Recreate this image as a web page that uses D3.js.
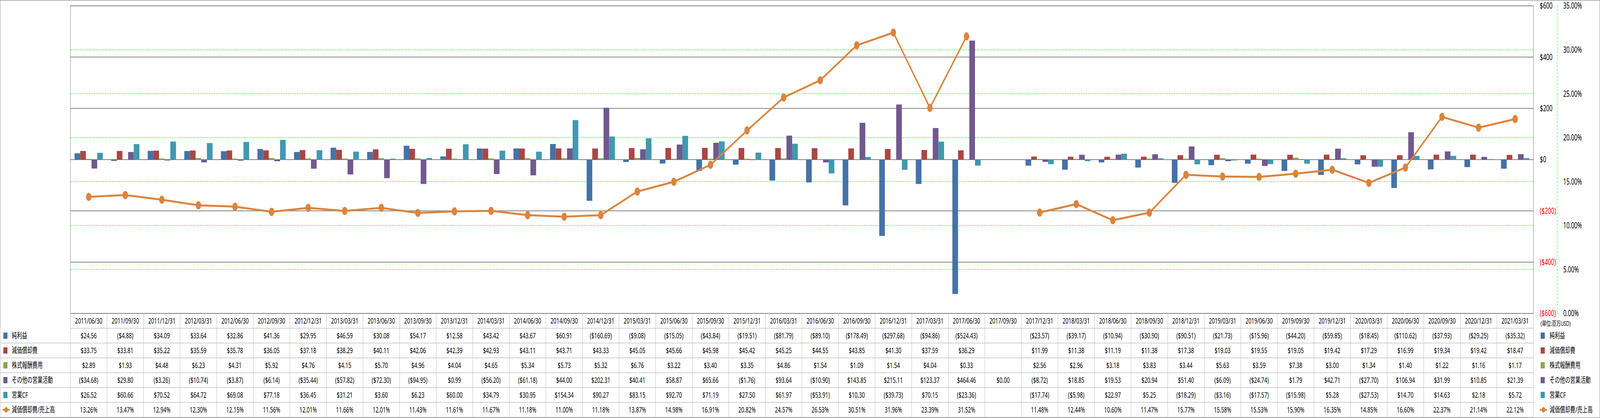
<!DOCTYPE html>
<html>
<head>
<meta charset="utf-8">
<script src="https://cdn.jsdelivr.net/npm/d3@7"></script>
<style>
html, body { margin: 0; padding: 0; background: #fff; overflow: hidden; }
.chart-wrapper { width: 100vw; height: 100vh; }
svg { display: block; }
text { font-family: "Noto Sans", "Noto Sans CJK JP", sans-serif; }
</style>
</head>
<body>
<div class="chart-wrapper"></div>
<script>
const dates = ['2011/06/30','2011/09/30','2011/12/31','2012/03/31','2012/06/30','2012/09/30','2012/12/31','2013/03/31','2013/06/30','2013/09/30','2013/12/31','2014/03/31','2014/06/30','2014/09/30','2014/12/31','2015/03/31','2015/06/30','2015/09/30','2015/12/31','2016/03/31','2016/06/30','2016/09/30','2016/12/31','2017/03/31','2017/06/30','2017/09/30','2017/12/31','2018/03/31','2018/06/30','2018/09/30','2018/12/31','2019/03/31','2019/06/30','2019/09/30','2019/12/31','2020/03/31','2020/06/30','2020/09/30','2020/12/31','2021/03/31'];

const netIncome = [24.56,-4.88,34.09,33.64,32.86,41.36,29.95,46.59,30.08,54.17,12.58,43.42,43.67,60.91,-160.69,-9.08,-15.05,-43.84,-19.51,-81.79,-89.10,-178.49,-297.68,-94.86,-524.43,null,-23.57,-39.17,-10.94,-30.90,-90.51,-21.73,-15.96,-44.20,-59.85,-18.45,-110.62,-37.93,-29.25,-35.32];
const depreciation = [33.75,33.81,35.22,35.59,35.78,36.05,37.18,38.29,40.11,42.06,42.39,42.93,43.11,43.71,43.33,45.05,45.66,45.98,45.42,45.25,44.55,43.85,41.30,37.59,36.29,null,11.99,11.38,11.19,11.38,17.38,19.03,19.55,19.05,19.42,17.29,16.99,19.34,19.42,18.47];
const stockComp = [2.89,1.93,4.48,6.23,4.31,5.92,4.76,4.15,5.70,4.96,4.04,4.65,5.34,5.73,5.32,6.76,3.22,3.40,3.35,4.86,1.54,1.09,1.54,4.04,0.33,null,2.56,2.96,3.18,3.83,3.44,5.63,3.59,7.38,3.00,1.34,1.40,1.22,1.16,1.17];
const otherOps = [-34.68,29.80,-3.26,-10.74,-3.87,-6.14,-35.44,-57.82,-72.30,-94.95,0.99,-56.20,-61.18,44.00,202.31,40.41,58.87,65.66,-1.76,93.64,-10.90,143.85,215.11,123.37,464.46,0.00,-8.72,18.85,19.53,20.94,51.40,-6.09,-24.74,1.79,42.71,-27.70,106.94,31.99,10.85,21.39];
const operatingCF = [26.52,60.66,70.52,64.72,69.08,77.18,36.45,31.21,3.60,6.23,60.00,34.79,30.95,154.34,90.27,83.15,92.70,71.19,27.50,61.97,-53.91,10.30,-39.73,70.15,-23.36,null,-17.74,-5.98,22.97,5.25,-18.29,-3.16,-17.57,-15.98,5.28,-27.53,14.70,14.63,2.18,5.72];
const deprRatio = [13.26,13.47,12.94,12.30,12.15,11.56,12.01,11.66,12.01,11.43,11.61,11.67,11.18,11.00,11.18,13.87,14.98,16.91,20.82,24.57,26.53,30.51,31.96,23.39,31.52,null,11.48,12.44,10.60,11.47,15.77,15.58,15.53,15.90,16.35,14.85,16.60,22.37,21.14,22.12];

const usdTicks = [-600,-400,-200,0,200,400,600];
const pctTicks = [0,5,10,15,20,25,30,35];

const barSeries = [
	{name:'純利益', values:netIncome, color:'#4572A7'},
	{name:'減価償却費', values:depreciation, color:'#AA4643'},
	{name:'株式報酬費用', values:stockComp, color:'#89A54E'},
	{name:'その他の営業活動', values:otherOps, color:'#71588F'},
	{name:'営業CF', values:operatingCF, color:'#4198AF'}
];
const lineSeries = {name:'減価償却費/売上高', values:deprRatio, color:'#DB843D'};

const width = 6226;
const height = 1071;
const plot = {left:274, right:5967, top:15, bottom:803};
const rowH = 38;
const tableTop = plot.bottom;
const fs = '20px';

let svg = d3.select('.chart-wrapper').append('svg')
.attr('viewBox', '0 0 ' + width + ' ' + height)
.attr('preserveAspectRatio', 'none')
.attr('width', '100%')
.attr('height', '100%')

svg.append('rect')
.attr('x', 0.5).attr('y', 0.5)
.attr('width', width - 1).attr('height', height - 1)
.attr('fill', '#fff')
.attr('stroke', '#888')
.attr('stroke-width', 1.5)

let x = d3.scaleBand()
.domain(dates)
.range([plot.left, plot.right])

let groupW = x.bandwidth() * 0.773;
let x1 = d3.scaleBand()
.domain(barSeries.map(d => d.name))
.range([(x.bandwidth() - groupW) / 2, (x.bandwidth() + groupW) / 2])

let yUsd = d3.scaleLinear().domain([-600, 600]).range([plot.bottom, plot.top])
let yPct = d3.scaleLinear().domain([0, 35]).range([plot.bottom, plot.top])

// grid lines
svg.append('g')
.selectAll('line')
.data(pctTicks)
.enter()
.append('line')
.attr('x1', plot.left).attr('x2', plot.right)
.attr('y1', d => yPct(d)).attr('y2', d => yPct(d))
.attr('stroke', '#00ff00')
.attr('stroke-width', 1.3)
.attr('stroke-dasharray', '5,4')

svg.append('g')
.selectAll('line')
.data(usdTicks)
.enter()
.append('line')
.attr('x1', plot.left).attr('x2', plot.right)
.attr('y1', d => yUsd(d)).attr('y2', d => yUsd(d))
.attr('stroke', '#808080')
.attr('stroke-width', 2)

// bars
let bars = svg.append('g')
barSeries.forEach(s => {
	bars.append('g')
	.selectAll('rect')
	.data(s.values.map((v, i) => ({v, date: dates[i]})).filter(d => d.v != null))
	.enter()
	.append('rect')
	.attr('x', d => x(d.date) + x1(s.name))
	.attr('width', x1.bandwidth())
	.attr('y', d => Math.min(yUsd(d.v), yUsd(0)))
	.attr('height', d => Math.abs(yUsd(d.v) - yUsd(0)))
	.attr('fill', s.color)
})

// plot border
svg.append('rect')
.attr('x', plot.left).attr('y', plot.top)
.attr('width', plot.right - plot.left).attr('height', plot.bottom - plot.top)
.attr('fill', 'none')
.attr('stroke', '#808080')
.attr('stroke-width', 1.5)

// ratio line
const cx = d => x(d.date) + x.bandwidth() / 2;
let lineData = deprRatio.map((v, i) => ({v, date: dates[i]}));
let line = d3.line()
.defined(d => d.v != null)
.x(cx)
.y(d => yPct(d.v))

svg.append('path')
.datum(lineData)
.attr('d', line)
.attr('fill', 'none')
.attr('stroke', lineSeries.color)
.attr('stroke-width', 5)

svg.append('g')
.selectAll('circle')
.data(lineData.filter(d => d.v != null))
.enter()
.append('circle')
.attr('cx', cx)
.attr('cy', d => yPct(d.v))
.attr('r', 10.5)
.attr('fill', lineSeries.color)

// right axes
const fmtUsd = d => d < 0 ? '($' + (-d) + ')' : '$' + d;
let usdAxis = svg.append('g')
.attr('transform', 'translate(5985,0)')
.call(d3.axisRight(yUsd).tickValues(usdTicks).tickSize(0).tickPadding(7).tickFormat(fmtUsd))
usdAxis.select('.domain').remove()
usdAxis.selectAll('text')
.style('font-size', '21.5px')
.style('font-family', '"Noto Sans", sans-serif')
.attr('fill', d => d < 0 ? '#ff0000' : '#000')

let pctAxis = svg.append('g')
.attr('transform', 'translate(6059,0)')
.call(d3.axisRight(yPct).tickValues(pctTicks).tickSizeOuter(0).tickSize(8).tickPadding(16).tickFormat(d => d.toFixed(2) + '%'))
pctAxis.select('.domain')
.attr('stroke', '#00ff00')
.attr('stroke-dasharray', '5,4')
pctAxis.selectAll('.tick line')
.attr('stroke', '#00ff00')
.attr('stroke-dasharray', '3,3')
pctAxis.selectAll('text')
.style('font-size', '21.5px')
.style('font-family', '"Noto Sans", sans-serif')
.attr('fill', '#000')

svg.append('text')
.attr('x', 5995).attr('y', tableTop + 32)
.style('font-size', '17px')
.text('(単位:百万USD)')

// data table
const fmtCell = v => v == null ? '' : (v < 0 ? '($' + (-v).toFixed(2) + ')' : '$' + v.toFixed(2));
const fmtPct = v => v == null ? '' : v.toFixed(2) + '%';
let rows = barSeries.map(s => ({name:s.name, color:s.color, type:'bar', cells:s.values.map(fmtCell)}))
rows.push({name:lineSeries.name, color:lineSeries.color, type:'line', cells:lineSeries.values.map(fmtPct)})

let table = svg.append('g')
const gridColor = '#c0c0c0';

// header
table.selectAll('.hdr')
.data(dates)
.enter()
.append('text')
.attr('class', 'hdr')
.attr('x', d => x(d) + x.bandwidth() / 2)
.attr('y', tableTop + rowH / 2 + 7)
.attr('text-anchor', 'middle')
.style('font-size', fs)
.text(d => d)

const drawKey = (g, r) => {
	if (r.type == 'bar') {
		g.append('rect').attr('x', 3).attr('y', -8).attr('width', 16).attr('height', 16).attr('fill', r.color)
	} else {
		g.append('line').attr('x1', 0).attr('x2', 28).attr('stroke', r.color).attr('stroke-width', 4)
		g.append('circle').attr('cx', 14).attr('r', 7).attr('fill', r.color)
	}
}

rows.forEach((r, ri) => {
	let y0 = tableTop + rowH * (ri + 1);
	table.append('g')
	.selectAll('text')
	.data(r.cells)
	.enter()
	.append('text')
	.attr('x', (d, i) => x(dates[i]) + x.bandwidth() / 2)
	.attr('y', y0 + rowH / 2 + 7)
	.attr('text-anchor', 'middle')
	.style('font-size', fs)
	.text(d => d)

	let key = table.append('g').attr('transform', 'translate(10,' + (y0 + rowH / 2) + ')')
	drawKey(key, r)
	table.append('text')
	.attr('x', 46).attr('y', y0 + rowH / 2 + 7)
	.style('font-size', fs)
	.text(r.name)

	// right legend
	let lg = table.append('g').attr('transform', 'translate(5992,' + (y0 + rowH / 2) + ')')
	drawKey(lg, r)
	lg.append('text').attr('x', 38).attr('y', 7).style('font-size', fs).text(r.name)
})

// table grid
let nRows = rows.length + 1;
let vLines = dates.map(d => x(d)).concat([plot.right]);
table.append('g')
.selectAll('line')
.data(vLines)
.enter()
.append('line')
.attr('x1', d => d).attr('x2', d => d)
.attr('y1', tableTop).attr('y2', tableTop + rowH * nRows)
.attr('stroke', gridColor)
.attr('stroke-width', 1.5)

table.append('g')
.selectAll('line')
.data(d3.range(1, nRows + 1))
.enter()
.append('line')
.attr('x1', d => d == 1 ? plot.left : 0).attr('x2', plot.right)
.attr('y1', d => tableTop + rowH * d).attr('y2', d => tableTop + rowH * d)
.attr('stroke', gridColor)
.attr('stroke-width', 1.5)

table.append('line')
.attr('x1', 0.75).attr('x2', 0.75)
.attr('y1', tableTop + rowH).attr('y2', tableTop + rowH * nRows)
.attr('stroke', gridColor)
.attr('stroke-width', 1.5)
</script>
</body>
</html>
